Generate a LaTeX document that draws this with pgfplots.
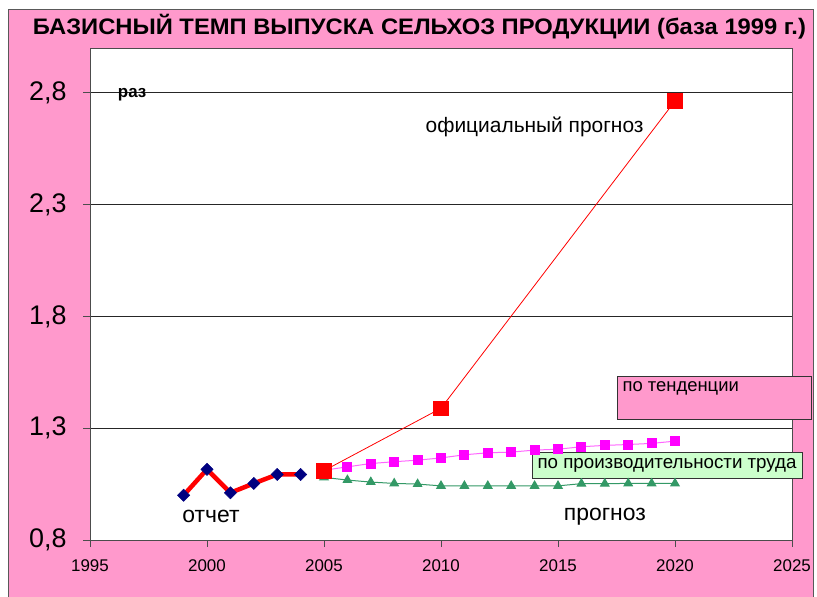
\documentclass[border=0pt]{standalone}
\usepackage{pgfplots}
\pgfplotsset{compat=1.18}
\usepackage{fontspec}
\setmainfont{Liberation Sans}
\usepackage{graphicx}

\definecolor{bgpink}{HTML}{FF99CC}
\definecolor{navyb}{HTML}{000080}
\definecolor{magmark}{HTML}{FF00FF}
\definecolor{magline}{HTML}{FF66FF}
\definecolor{prodgreen}{HTML}{339966}
\definecolor{boxgreen}{HTML}{CCFFCC}

\begin{document}
\begin{tikzpicture}
% page frame and background
\path[use as bounding box] (0bp,0bp) rectangle (817bp,597bp);
\fill[bgpink, draw=gray!70!black] (8bp,-5bp) rectangle (813bp,588bp);
\node[anchor=base, inner sep=0pt] at (419.5bp,562bp)
  {\resizebox{773bp}{\height}{\fontsize{22.5}{24}\selectfont\bfseries БАЗИСНЫЙ ТЕМП ВЫПУСКА СЕЛЬХОЗ ПРОДУКЦИИ (база 1999 г.)}};

\begin{axis}[
  at={(90bp,57bp)}, anchor=south west,
  scale only axis, width=702bp, height=492bp,
  xmin=1995, xmax=2025, ymin=0.8, ymax=3.0,
  axis background/.style={fill=white},
  axis line style={gray!60!black, line width=0.8bp},
  xtick={1995,2000,2005,2010,2015,2020,2025},
  xticklabels={1995,2000,2005,2010,2015,2020,2025},
  ytick={0.8,1.3,1.8,2.3,2.8},
  yticklabels={{0,8},{1,3},{1,8},{2,3},{2,8}},
  tick pos=left, tick align=outside,
  major tick length=7bp,
  tick style={gray!60!black, line width=0.8bp},
  ymajorgrids,
  grid style={black!85, line width=0.8bp},
  yticklabel style={font=\fontsize{27}{30}\selectfont, xshift=-13bp},
  xticklabel style={font=\fontsize{17}{19}\selectfont, yshift=-9bp},
  clip=false,
]
% by productivity
\addplot[prodgreen, line width=1bp, mark=triangle*, mark size=4.8bp,
  mark options={fill=prodgreen, draw=prodgreen}]
  coordinates {
    (2005,1.080) (2006,1.068) (2007,1.059) (2008,1.053) (2009,1.050)
    (2010,1.042) (2011,1.042) (2012,1.042) (2013,1.042) (2014,1.042)
    (2015,1.042) (2016,1.052) (2017,1.052) (2018,1.053) (2019,1.053)
    (2020,1.053)
  };
% by trend
\addplot[magline, line width=1bp, mark=square*, mark size=4.5bp,
  mark options={fill=magmark, draw=magmark}]
  coordinates {
    (2005,1.112) (2006,1.127) (2007,1.142) (2008,1.150) (2009,1.157)
    (2010,1.167) (2011,1.181) (2012,1.190) (2013,1.193) (2014,1.202)
    (2015,1.206) (2016,1.217) (2017,1.223) (2018,1.227) (2019,1.232)
    (2020,1.242)
  };
% official forecast
\addplot[red, line width=0.8bp, mark=square*, mark size=7.3bp,
  mark options={fill=red, draw=red}]
  coordinates {(2005,1.110) (2010,1.389) (2020,2.763)};
% report
\addplot[red, line width=4.5bp, mark=square*, mark size=4.3bp,
  mark options={fill=navyb, draw=navyb, line width=0.5bp, rotate=45}]
  coordinates {
    (1999,1.000) (2000,1.116) (2001,1.011) (2002,1.053) (2003,1.093) (2004,1.093)
  };

\node[font=\fontsize{17}{20}\selectfont\bfseries] at (axis cs:1996.8,2.793) {раз};
\node[font=\fontsize{21}{23}\selectfont] at (axis cs:2014.0,2.647) {официальный прогноз};
\node[font=\fontsize{23}{25}\selectfont] at (axis cs:2000.17,0.907) {отчет};
\node[font=\fontsize{23}{25}\selectfont] at (axis cs:2017.0,0.903) {прогноз};

\draw[fill=bgpink, draw=black!80, line width=0.8bp]
  (axis cs:2017.52,1.533) rectangle (axis cs:2025.85,1.341);
\node[anchor=west, inner sep=0pt, font=\fontsize{18.5}{20}\selectfont]
  at (axis cs:2017.75,1.48) {по тенденции};
\draw[fill=boxgreen, draw=black!80, line width=0.8bp]
  (axis cs:2013.89,1.1936) rectangle (axis cs:2025.43,1.077);
\node[font=\fontsize{18.8}{20}\selectfont]
  at (axis cs:2019.66,1.135) {по производительности труда};
\end{axis}
\end{tikzpicture}
\end{document}
